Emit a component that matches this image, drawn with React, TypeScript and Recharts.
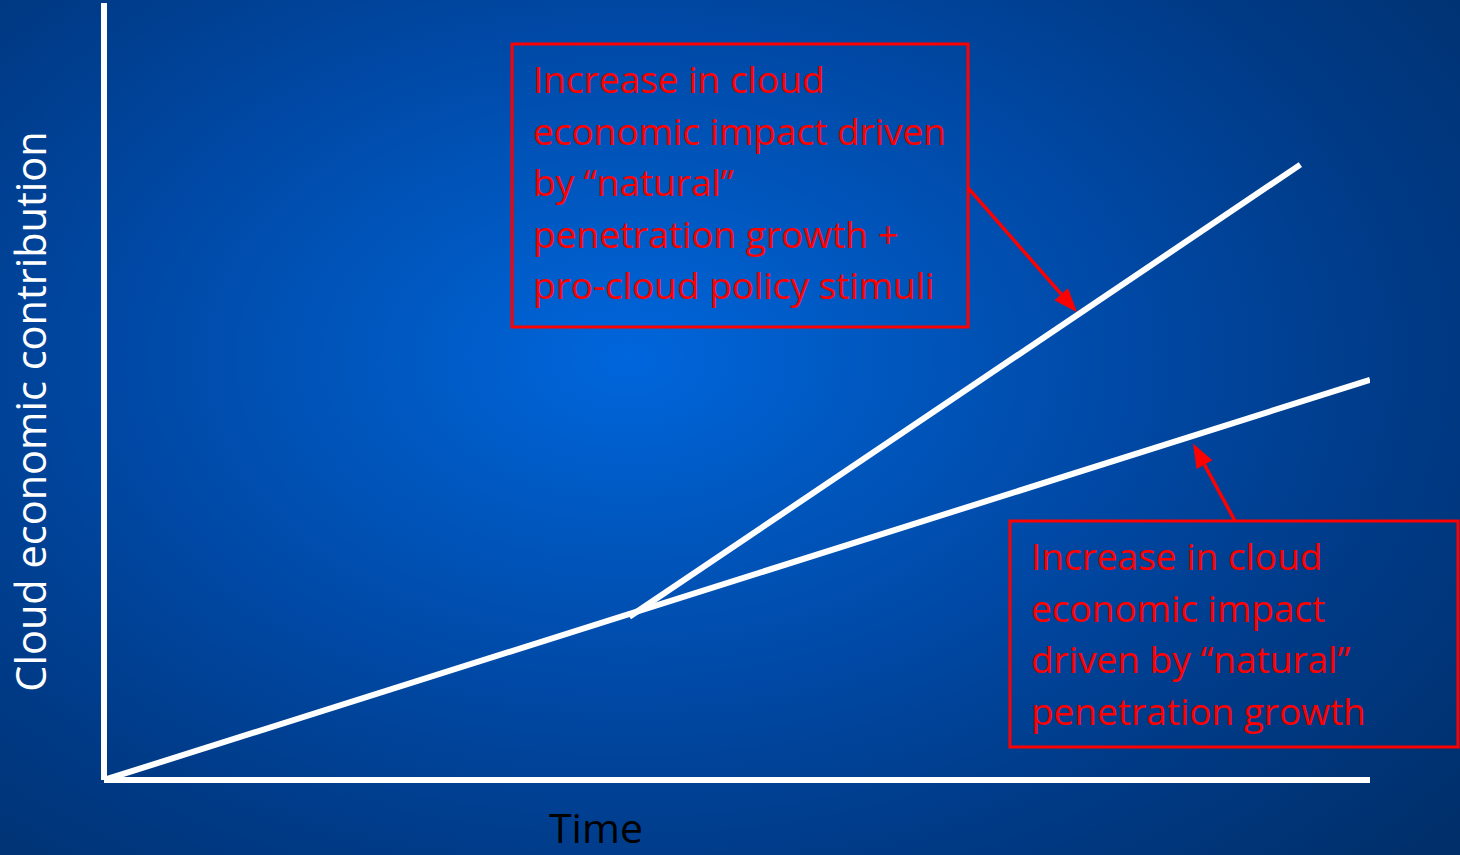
import React from 'react';
import { LineChart, Line, XAxis, YAxis, ReferenceArea, ReferenceLine, Label } from 'recharts';

// Time axis (0..100) and contribution axis (0..100), arbitrary units
const baseSeries = [
  { t: 0, v: 0 },
  { t: 100, v: 51.5 },
];
const policySeries = [
  { t: 41.5, v: 21.0 },
  { t: 94.5, v: 79.2 },
];

const box1Lines = [
  'Increase in cloud',
  'economic impact driven',
  'by \u201cnatural\u201d',
  'penetration growth +',
  'pro-cloud policy stimuli',
];
const box2Lines = [
  'Increase in cloud',
  'economic impact',
  'driven by \u201cnatural\u201d',
  'penetration growth',
];

const box1 = { t1: 32.23, t2: 68.25, v1: 58.3, v2: 94.72 };
const box2 = { t1: 71.56, t2: 106.95, v1: 4.25, v2: 33.33 };
const arrow1 = { from: { t: 68.25, v: 76.2 }, to: { t: 76.86, v: 60.2 } };
const arrow2 = { from: { t: 89.34, v: 33.33 }, to: { t: 86.02, v: 43.3 } };

const yLabel = 'Cloud economic contribution';
const xLabel = 'Time';

const FONT = '"Open Sans", sans-serif';
const RED = '#ff0000';

const BoxText = (lines: string[]) => (props: any) => {
  const vb = props.viewBox || {};
  const x = vb.x + 21;
  const y = vb.y + 49;
  return (
    <text x={x} y={y} fill={RED} fontFamily={FONT} fontSize={37}>
      {lines.map((l, i) => (
        <tspan key={i} x={x} y={y + i * 51.5}>
          {l}
        </tspan>
      ))}
    </text>
  );
};

const Arrow = (props: any) => {
  const { x1, y1, x2, y2 } = props;
  const dx = x2 - x1;
  const dy = y2 - y1;
  const len = Math.sqrt(dx * dx + dy * dy);
  const ux = dx / len;
  const uy = dy / len;
  const hl = 24;
  const hw = 9;
  const bx = x2 - ux * hl;
  const by = y2 - uy * hl;
  const pts = `${x2},${y2} ${bx - uy * hw},${by + ux * hw} ${bx + uy * hw},${by - ux * hw}`;
  return (
    <g>
      <line x1={x1} y1={y1} x2={bx} y2={by} stroke={RED} strokeWidth={3.5} />
      <polygon points={pts} fill={RED} />
    </g>
  );
};

const YLabelContent = (props: any) => {
  const vb = props.viewBox || {};
  const cx = 30;
  const cy = vb.y + vb.height / 2 + 20;
  return (
    <text
      x={cx}
      y={cy}
      transform={`rotate(-90 ${cx} ${cy})`}
      textAnchor="middle"
      dominantBaseline="central"
      fill="#ffffff"
      fontFamily={FONT}
      fontSize={41.5}
    >
      {yLabel}
    </text>
  );
};

const XLabelContent = (props: any) => {
  const vb = props.viewBox || {};
  const cx = vb.x + vb.width / 2 - 141;
  return (
    <text x={cx} y={843} textAnchor="middle" fill="#000000" fontFamily={FONT} fontSize={41}>
      {xLabel}
    </text>
  );
};

export default function App() {
  return (
    <div
      style={{
        position: 'absolute',
        left: 0,
        top: 0,
        width: 1460,
        height: 855,
        background:
          'radial-gradient(ellipse 75% 85% at 43% 42%, #0066dc 0%, #0058c0 22%, #0049a6 45%, #003b88 70%, #002f6a 100%)',
        overflow: 'hidden',
      }}
    >
      <LineChart
        width={1460}
        height={855}
        margin={{ top: 3, right: 90, bottom: 74, left: 103 }}
        style={{ overflow: 'visible' }}
      >
        <XAxis
          type="number"
          dataKey="t"
          domain={[0, 100]}
          allowDataOverflow
          height={1}
          tick={false}
          tickLine={false}
          axisLine={{ stroke: '#ffffff', strokeWidth: 6 }}
        >
          <Label content={XLabelContent} />
        </XAxis>
        <YAxis
          type="number"
          dataKey="v"
          domain={[0, 100]}
          allowDataOverflow
          width={1}
          tick={false}
          tickLine={false}
          axisLine={{ stroke: '#ffffff', strokeWidth: 6 }}
        >
          <Label content={YLabelContent} />
        </YAxis>
        <Line
          data={baseSeries}
          dataKey="v"
          type="linear"
          stroke="#ffffff"
          strokeWidth={6}
          dot={false}
          isAnimationActive={false}
        />
        <Line
          data={policySeries}
          dataKey="v"
          type="linear"
          stroke="#ffffff"
          strokeWidth={6}
          dot={false}
          isAnimationActive={false}
        />
        <ReferenceArea
          x1={box1.t1}
          x2={box1.t2}
          y1={box1.v1}
          y2={box1.v2}
          ifOverflow="visible"
          fill="none"
          fillOpacity={0}
          stroke={RED}
          strokeWidth={3}
          label={BoxText(box1Lines)}
        />
        <ReferenceArea
          x1={box2.t1}
          x2={box2.t2}
          y1={box2.v1}
          y2={box2.v2}
          ifOverflow="visible"
          fill="none"
          fillOpacity={0}
          stroke={RED}
          strokeWidth={3}
          label={BoxText(box2Lines)}
        />
        <ReferenceLine
          segment={[
            { x: arrow1.from.t, y: arrow1.from.v },
            { x: arrow1.to.t, y: arrow1.to.v },
          ]}
          ifOverflow="visible"
          shape={Arrow}
        />
        <ReferenceLine
          segment={[
            { x: arrow2.from.t, y: arrow2.from.v },
            { x: arrow2.to.t, y: arrow2.to.v },
          ]}
          ifOverflow="visible"
          shape={Arrow}
        />
      </LineChart>
    </div>
  );
}
